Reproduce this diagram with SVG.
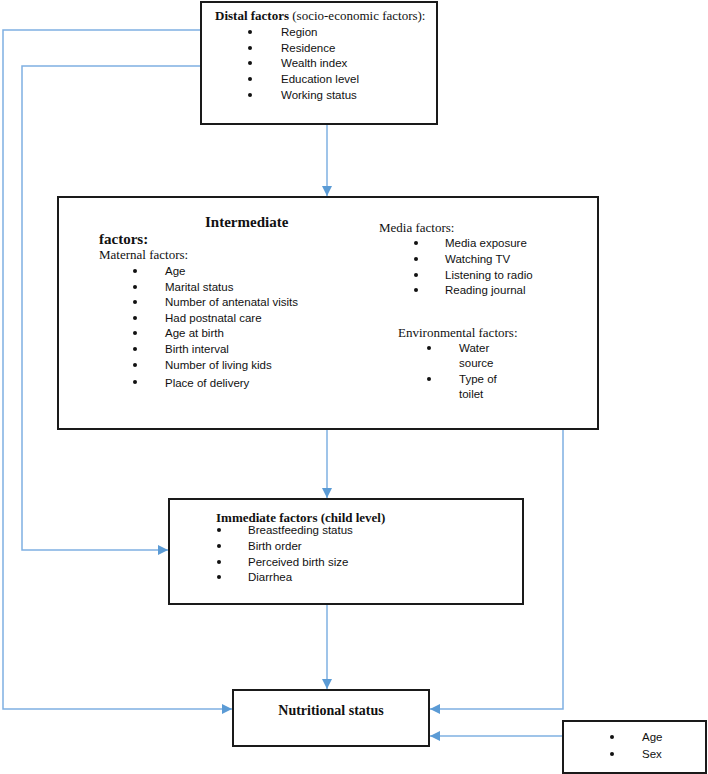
<svg xmlns="http://www.w3.org/2000/svg" width="708" height="774" viewBox="0 0 708 774">
<defs>
<marker id="ah" viewBox="0 0 10 10" refX="10" refY="5" markerWidth="10" markerHeight="10" markerUnits="userSpaceOnUse" orient="auto">
<path d="M0,0 L10,5 L0,10 Z" fill="#5B9BD5"/>
</marker>
<style>
.box{fill:#fff;stroke:#1a1a1a;stroke-width:2}
.conn{fill:none;stroke:#7FB0E2;stroke-width:1.5}
.ser{font-family:"Liberation Serif","Times New Roman",serif;font-size:13px;fill:#111}
.serb{font-family:"Liberation Serif","Times New Roman",serif;font-weight:bold;fill:#111}
.san{font-family:"Liberation Sans",Arial,sans-serif;font-size:11.5px;fill:#111}
.bul{fill:#111}
</style>
</defs>
<g id="connectors">
<path class="conn" d="M201,30 H3 V709 H232" marker-end="url(#ah)"/>
<path class="conn" d="M201,66 H22 V550 H168" marker-end="url(#ah)"/>
<path class="conn" d="M327,125 V196" marker-end="url(#ah)"/>
<path class="conn" d="M327,430 V498" marker-end="url(#ah)"/>
<path class="conn" d="M563,430 V709 H430" marker-end="url(#ah)"/>
<path class="conn" d="M327,605 V689" marker-end="url(#ah)"/>
<path class="conn" d="M563,736 H430" marker-end="url(#ah)"/>
</g>
<g id="distal">
<rect class="box" x="201" y="2" width="236" height="122"/>
<text x="215" y="20" class="ser"><tspan class="serb" font-size="13">Distal factors</tspan> (socio-economic factors):</text>
<g class="bul"><circle cx="250" cy="32" r="2"/><circle cx="250" cy="48" r="2"/><circle cx="250" cy="63" r="2"/><circle cx="250" cy="79" r="2"/><circle cx="250" cy="95" r="2"/></g>
<text class="san" x="281" y="36">Region</text>
<text class="san" x="281" y="52">Residence</text>
<text class="san" x="281" y="67">Wealth index</text>
<text class="san" x="281" y="83">Education level</text>
<text class="san" x="281" y="99">Working status</text>
</g>
<g id="intermediate">
<rect class="box" x="58" y="197" width="540" height="232"/>
<text class="serb" font-size="15" x="205" y="227">Intermediate</text>
<text class="serb" font-size="15" x="99" y="244">factors:</text>
<text class="ser" x="99" y="259">Maternal factors:</text>
<g class="bul"><circle cx="135" cy="271" r="2"/><circle cx="135" cy="287" r="2"/><circle cx="135" cy="302" r="2"/><circle cx="135" cy="318" r="2"/><circle cx="135" cy="333" r="2"/><circle cx="135" cy="349" r="2"/><circle cx="135" cy="365" r="2"/><circle cx="135" cy="382" r="2"/></g>
<text class="san" x="165" y="275">Age</text>
<text class="san" x="165" y="291">Marital status</text>
<text class="san" x="165" y="306">Number of antenatal visits</text>
<text class="san" x="165" y="322">Had postnatal care</text>
<text class="san" x="165" y="337">Age at birth</text>
<text class="san" x="165" y="353">Birth interval</text>
<text class="san" x="165" y="369">Number of living kids</text>
<text class="san" x="165" y="387">Place of delivery</text>
<text class="ser" x="379" y="232">Media factors:</text>
<g class="bul"><circle cx="416" cy="243" r="2"/><circle cx="416" cy="259" r="2"/><circle cx="416" cy="275" r="2"/><circle cx="416" cy="290" r="2"/></g>
<text class="san" x="445" y="247">Media exposure</text>
<text class="san" x="445" y="263">Watching TV</text>
<text class="san" x="445" y="279">Listening to radio</text>
<text class="san" x="445" y="294">Reading journal</text>
<text class="ser" x="398" y="337">Environmental factors:</text>
<g class="bul"><circle cx="429" cy="348" r="2"/><circle cx="429" cy="379" r="2"/></g>
<text class="san" x="459" y="352">Water</text>
<text class="san" x="459" y="367">source</text>
<text class="san" x="459" y="383">Type of</text>
<text class="san" x="459" y="398">toilet</text>
</g>
<g id="immediate">
<rect class="box" x="169" y="499" width="354" height="105"/>
<text class="serb" font-size="13" x="216" y="522">Immediate factors (child level)</text>
<g class="bul"><circle cx="219" cy="530" r="2"/><circle cx="219" cy="546" r="2"/><circle cx="219" cy="562" r="2"/><circle cx="219" cy="577" r="2"/></g>
<text class="san" x="248" y="534">Breastfeeding status</text>
<text class="san" x="248" y="550">Birth order</text>
<text class="san" x="248" y="566">Perceived birth size</text>
<text class="san" x="248" y="581">Diarrhea</text>
</g>
<g id="nutritional">
<rect class="box" x="233" y="690" width="196" height="56"/>
<text class="serb" font-size="14" x="331" y="715" text-anchor="middle">Nutritional status</text>
</g>
<g id="agesex">
<rect class="box" x="563" y="721" width="143" height="52"/>
<g class="bul"><circle cx="612" cy="737" r="2"/><circle cx="612" cy="754" r="2"/></g>
<text class="san" x="642" y="741">Age</text>
<text class="san" x="642" y="758">Sex</text>
</g>
</svg>
